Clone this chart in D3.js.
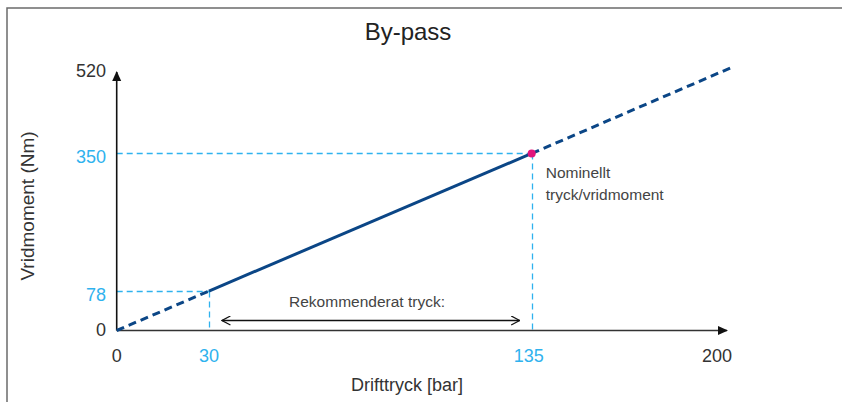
<!DOCTYPE html>
<html>
<head>
<meta charset="utf-8">
<script src="https://cdn.jsdelivr.net/npm/d3@7"></script>
<style>
  html, body { margin: 0; padding: 0; background: #fff; }
  svg { display: block; }
  text { font-family: "Liberation Sans", Arial, Helvetica, sans-serif; }
</style>
</head>
<body>
<svg id="chart" width="842" height="402"></svg>
<script>
// ---- data ----
const linePoints = [ { x: 0, y: 0 }, { x: 30, y: 78 }, { x: 135, y: 350 }, { x: 200, y: 520 } ];
const recommendedRange = [30, 135];
const nominalPoint = { x: 135, y: 350 };
const xTickValues = [0, 30, 135, 200];
const xTickHighlight = [false, true, true, false];
const yTickValues = [0, 78, 350, 520];
const yTickHighlight = [false, true, true, false];
const titleText = "By-pass";
const xLabel = "Drifttryck [bar]";
const yLabel = "Vridmoment (Nm)";
const rangeLabel = "Rekommenderat tryck:";
const nominalLabel = ["Nominellt", "tryck/vridmoment"];

// ---- layout ----
const svg = d3.select("#chart");
const x = d3.scaleLinear().domain([0, 200]).range([116.7, 731.5]);
const y = d3.scaleLinear().domain([0, 520]).range([330.5, 67.5]);
const px = v => Math.round(v) + 0.5; // crisp 1px lines

const darkBlue = "#0b4686";
const lightBlue = "#2fb2ee";
const textGray = "#333";

// frame
svg.append("path")
  .attr("d", "M7,402 L7,8 L842,8")
  .attr("fill", "none").attr("stroke", "#6b6b6b").attr("stroke-width", 1.5);

// title
svg.append("text").attr("x", 408).attr("y", 40)
  .attr("text-anchor", "middle").attr("font-size", 24).attr("fill", "#222")
  .text(titleText);

// markers
const defs = svg.append("defs");
defs.append("marker").attr("id", "axisArrow")
  .attr("viewBox", "0 0 10 10").attr("refX", 9).attr("refY", 5)
  .attr("markerWidth", 10).attr("markerHeight", 10).attr("markerUnits", "userSpaceOnUse")
  .attr("orient", "auto")
  .append("path").attr("d", "M0,0.5 L10,5 L0,9.5 Z").attr("fill", "#111");
defs.append("marker").attr("id", "openArrow")
  .attr("viewBox", "0 0 10 10").attr("refX", 9.5).attr("refY", 5)
  .attr("markerWidth", 10).attr("markerHeight", 10).attr("markerUnits", "userSpaceOnUse")
  .attr("orient", "auto-start-reverse")
  .append("path").attr("d", "M1,0.5 L9.5,5 L1,9.5").attr("fill", "none")
  .attr("stroke", "#111").attr("stroke-width", 1.3);

// guide lines (light blue dashed)
const guides = svg.append("g").attr("stroke", lightBlue).attr("stroke-width", 1.3)
  .attr("stroke-dasharray", "6,4").attr("fill", "none");
[[30, 78], [135, 350]].forEach(([gx, gy]) => {
  guides.append("line").attr("x1", x(0)).attr("x2", px(x(gx))).attr("y1", px(y(gy))).attr("y2", px(y(gy)));
  guides.append("line").attr("x1", px(x(gx))).attr("x2", px(x(gx))).attr("y1", px(y(gy))).attr("y2", y(0));
});

// axes
svg.append("line").attr("x1", x(0)).attr("y1", y(0)).attr("x2", 727).attr("y2", y(0))
  .attr("stroke", "#333").attr("stroke-width", 1.6).attr("marker-end", "url(#axisArrow)");
svg.append("line").attr("x1", x(0)).attr("y1", y(0)).attr("x2", x(0)).attr("y2", 72)
  .attr("stroke", "#111").attr("stroke-width", 1.6).attr("marker-end", "url(#axisArrow)");

// tick labels
svg.append("g").selectAll("text").data(xTickValues).join("text")
  .attr("x", (d, i) => i === xTickValues.length - 1 ? x(d) + 0.5 : x(d) - (d === 135 ? 3 : 0))
  .attr("y", 362)
  .attr("text-anchor", (d, i) => i === xTickValues.length - 1 ? "end" : "middle")
  .attr("font-size", 18)
  .attr("fill", (d, i) => xTickHighlight[i] ? lightBlue : textGray)
  .text(d => d);
svg.append("g").selectAll("text").data(yTickValues).join("text")
  .attr("x", 106).attr("y", d => y(d) + (d === 0 ? -0.5 : 3.5) + 6)
  .attr("text-anchor", "end").attr("font-size", 18)
  .attr("fill", (d, i) => yTickHighlight[i] ? lightBlue : textGray)
  .text(d => d);

// axis titles
svg.append("text").attr("x", 407).attr("y", 391)
  .attr("text-anchor", "middle").attr("font-size", 18).attr("fill", textGray)
  .text(xLabel);
svg.append("text")
  .attr("transform", "translate(34,206) rotate(-90)")
  .attr("text-anchor", "middle").attr("font-size", 19).attr("fill", textGray)
  .text(yLabel);

// the curve: dashed below range, solid within, dashed above
const line = d3.line().x(d => x(d.x)).y(d => y(d.y));
const seg1 = linePoints.filter(d => d.x <= recommendedRange[0]);
const seg2 = linePoints.filter(d => d.x >= recommendedRange[0] && d.x <= recommendedRange[1]);
const seg3 = linePoints.filter(d => d.x >= recommendedRange[1]);
svg.append("path").attr("d", line(seg1)).attr("fill", "none").attr("stroke", darkBlue)
  .attr("stroke-width", 3).attr("stroke-dasharray", "8,5");
svg.append("path").attr("d", line(seg2)).attr("fill", "none").attr("stroke", darkBlue)
  .attr("stroke-width", 3);
svg.append("path").attr("d", line(seg3)).attr("fill", "none").attr("stroke", darkBlue)
  .attr("stroke-width", 3).attr("stroke-dasharray", "8,5");

// nominal point
svg.append("circle").attr("cx", x(nominalPoint.x)).attr("cy", y(nominalPoint.y)).attr("r", 4)
  .attr("fill", "#e0147c");

// recommended range arrow
svg.append("line")
  .attr("x1", x(recommendedRange[0]) + 13).attr("x2", x(recommendedRange[1]) - 12)
  .attr("y1", 320.5).attr("y2", 320.5)
  .attr("stroke", "#111").attr("stroke-width", 1.3)
  .attr("marker-start", "url(#openArrow)").attr("marker-end", "url(#openArrow)");
svg.append("text").attr("x", 367).attr("y", 307)
  .attr("text-anchor", "middle").attr("font-size", 15.5).attr("fill", "#444")
  .text(rangeLabel);

// nominal annotation
svg.append("g").selectAll("text").data(nominalLabel).join("text")
  .attr("x", x(nominalPoint.x) + 14).attr("y", (d, i) => 178 + i * 22)
  .attr("font-size", 15.5).attr("fill", "#444")
  .text(d => d);
</script>
</body>
</html>
